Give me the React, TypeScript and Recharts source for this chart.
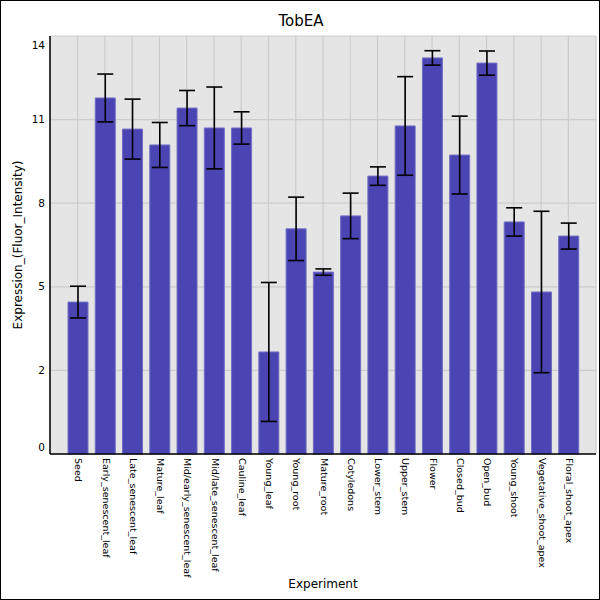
import {
  BarChart,
  Bar,
  XAxis,
  YAxis,
  CartesianGrid,
  ErrorBar,
  Label,
} from 'recharts';

// categories and values
const experiments = [
  'Seed',
  'Early_senescent_leaf',
  'Late_senescent_leaf',
  'Mature_leaf',
  'Mid/early_senescent_leaf',
  'Mid/late_senescent_leaf',
  'Cauline_leaf',
  'Young_leaf',
  'Young_root',
  'Mature_root',
  'Cotyledons',
  'Lower_stem',
  'Upper_stem',
  'Flower',
  'Closed_bud',
  'Open_bud',
  'Young_shoot',
  'Vegetative_shoot_apex',
  'Floral_shoot_apex',
];

const expression = [
  5.27, 12.35, 11.27, 10.72, 12.0, 11.31, 11.31, 3.54, 7.81, 6.31,
  8.26, 9.64, 11.38, 13.74, 10.37, 13.56, 8.05, 5.62, 7.56,
];

const stdDev = [
  0.55, 0.83, 1.04, 0.78, 0.61, 1.42, 0.56, 2.41, 1.1, 0.11,
  0.79, 0.32, 1.71, 0.25, 1.35, 0.42, 0.49, 2.8, 0.45,
];

const Y_MAX = 14.5;
const yTicks = [0, 1, 2, 3, 4, 5].map((i) => (Y_MAX * i) / 5);

const chartData = experiments.map((name, i) => ({
  name,
  value: expression[i],
  err: stdDev[i],
}));

const FONT = 'DejaVu Sans';

const XTick = ({ x, y, payload }: any) => (
  <text
    transform={`translate(${x},${y}) rotate(90)`}
    x={0}
    y={0}
    dy="0.25em"
    textAnchor="start"
    fontSize={9.5}
    fontFamily={FONT}
    fill="#000"
  >
    {payload.value}
  </text>
);

const YTick = ({ x, y, payload }: any) => {
  // end labels are pulled inside the plot like in the original
  let shift = 0;
  if (payload.value === 0) shift = -7;
  if (payload.value === Y_MAX) shift = 9;
  return (
    <text
      x={x}
      y={y + shift}
      dy="0.35em"
      textAnchor="end"
      fontSize={10.5}
      fontFamily={FONT}
      fill="#000"
    >
      {Math.floor(payload.value + 1e-9)}
    </text>
  );
};

const YLabel = (props: any) => {
  const vb = props.viewBox;
  const cx = 18;
  const cy = vb.y + vb.height / 2;
  return (
    <text
      x={cx}
      y={cy}
      transform={`rotate(-90, ${cx}, ${cy})`}
      textAnchor="middle"
      dy="0.35em"
      fontSize={12}
      fontFamily={FONT}
      fill="#000"
    >
      Expression_(Fluor_Intensity)
    </text>
  );
};

const XLabel = (props: any) => {
  const vb = props.viewBox;
  return (
    <text
      x={vb.x + vb.width / 2}
      y={588}
      textAnchor="middle"
      fontSize={12}
      fontFamily={FONT}
      fill="#000"
    >
      Experiment
    </text>
  );
};

export default function App() {
  return (
    <div
      style={{
        position: 'absolute',
        left: 0,
        top: 0,
        width: 600,
        height: 600,
        background: '#fff',
        border: '1px solid #000',
        boxSizing: 'border-box',
        fontFamily: FONT,
      }}
    >
      <div
        style={{
          position: 'absolute',
          left: 0,
          top: 10,
          width: 600,
          textAlign: 'center',
          fontSize: 15,
          lineHeight: '20px',
        }}
      >
        TobEA
      </div>
      <div style={{ position: 'absolute', left: -1, top: -1 }}>
        <BarChart
          width={600}
          height={600}
          data={chartData}
          margin={{ top: 36, right: 4, left: 10, bottom: 0 }}
        >
          <CartesianGrid fill="#e5e5e5" stroke="#cccccc" strokeWidth={1.2} />
          <XAxis
            dataKey="name"
            interval={0}
            height={146}
            padding={{ left: 14, right: 14 }}
            tick={<XTick />}
            tickLine={false}
            tickSize={0}
            tickMargin={4}
            axisLine={{ stroke: '#000', strokeWidth: 1.5 }}
          >
            <Label content={<XLabel />} />
          </XAxis>
          <YAxis
            width={40}
            domain={[0, Y_MAX]}
            ticks={yTicks}
            interval={0}
            tick={<YTick />}
            tickLine={false}
            tickSize={0}
            tickMargin={5}
            axisLine={{ stroke: '#000', strokeWidth: 1.5 }}
          >
            <Label content={<YLabel />} />
          </YAxis>
          <Bar
            dataKey="value"
            fill="#4a45b2"
            stroke="#726ec4"
            strokeWidth={1}
            barSize={20}
            isAnimationActive={false}
          >
            <ErrorBar
              dataKey="err"
              width={8}
              stroke="#000"
              strokeWidth={1.6}
              isAnimationActive={false}
            />
          </Bar>
        </BarChart>
      </div>
    </div>
  );
}
